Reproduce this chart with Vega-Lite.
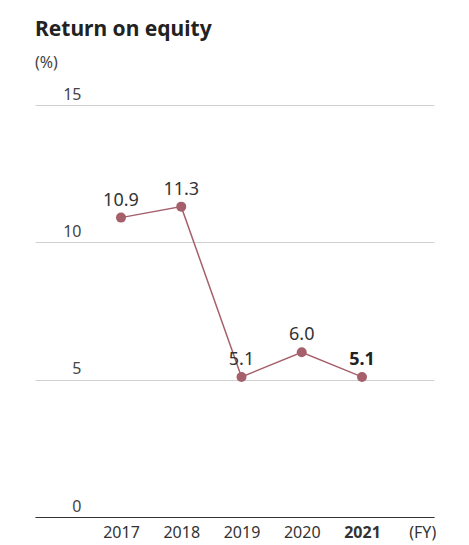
{
  "$schema": "https://vega.github.io/schema/vega-lite/v6.json",
  "autosize": "none",
  "width": 399,
  "height": 412,
  "padding": {"left": 35, "top": 105, "right": 35, "bottom": 28},
  "background": "white",
  "config": {"view": {"stroke": null}, "font": "Noto Sans"},
  "title": {
    "text": "Return on equity",
    "subtitle": "(%)",
    "anchor": "start",
    "frame": "group",
    "fontSize": 21,
    "fontWeight": "bold",
    "color": "#222",
    "subtitleFontSize": 16,
    "subtitleColor": "#444",
    "subtitlePadding": 15,
    "offset": 15
  },
  "data": {"values": [
    {"year": 2017, "roe": 10.9},
    {"year": 2018, "roe": 11.3},
    {"year": 2019, "roe": 5.1},
    {"year": 2020, "roe": 6.0},
    {"year": 2021, "roe": 5.1}
  ]},
  "encoding": {
    "x": {"field": "year", "type": "quantitative",
      "scale": {"domain": [2015.573, 2022.195], "nice": false, "zero": false},
      "axis": {"title": null, "values": [2017, 2018, 2019, 2020, 2021, 2022], "format": "d",
        "labelExpr": "datum.value == 2022 ? '(FY)' : datum.label",
        "grid": false, "ticks": false, "domainColor": "#333", "domainWidth": 1,
        "labelFontSize": 16, "labelColor": "#333", "labelPadding": 7,
        "labelFontWeight": {"condition": {"test": "datum.value == 2021", "value": "bold"}, "value": "normal"}}},
    "y": {"field": "roe", "type": "quantitative",
      "scale": {"domain": [0, 15], "nice": false},
      "axis": {"title": null, "values": [0, 5, 10, 15], "ticks": false, "domain": false,
        "gridColor": "#d0d0d0", "gridWidth": 1,
        "labelAlign": "right", "labelPadding": -46, "labelBaseline": "alphabetic", "labelOffset": -6,
        "labelFontSize": 16, "labelColor": "#444"}}
  },
  "layer": [
    {"mark": {"type": "line", "color": "#a5606c", "strokeWidth": 1.5}},
    {"mark": {"type": "point", "filled": true, "opacity": 1, "color": "#a5606c", "size": 100}},
    {"transform": [{"filter": "datum.year != 2021"}],
     "mark": {"type": "text", "dy": -12, "baseline": "alphabetic", "fontSize": 18, "color": "#333"},
     "encoding": {"text": {"field": "roe", "type": "quantitative", "format": ".1f"}}},
    {"transform": [{"filter": "datum.year == 2021"}],
     "mark": {"type": "text", "dy": -12, "baseline": "alphabetic", "fontSize": 18, "fontWeight": "bold", "color": "#222"},
     "encoding": {"text": {"field": "roe", "type": "quantitative", "format": ".1f"}}}
  ]
}
